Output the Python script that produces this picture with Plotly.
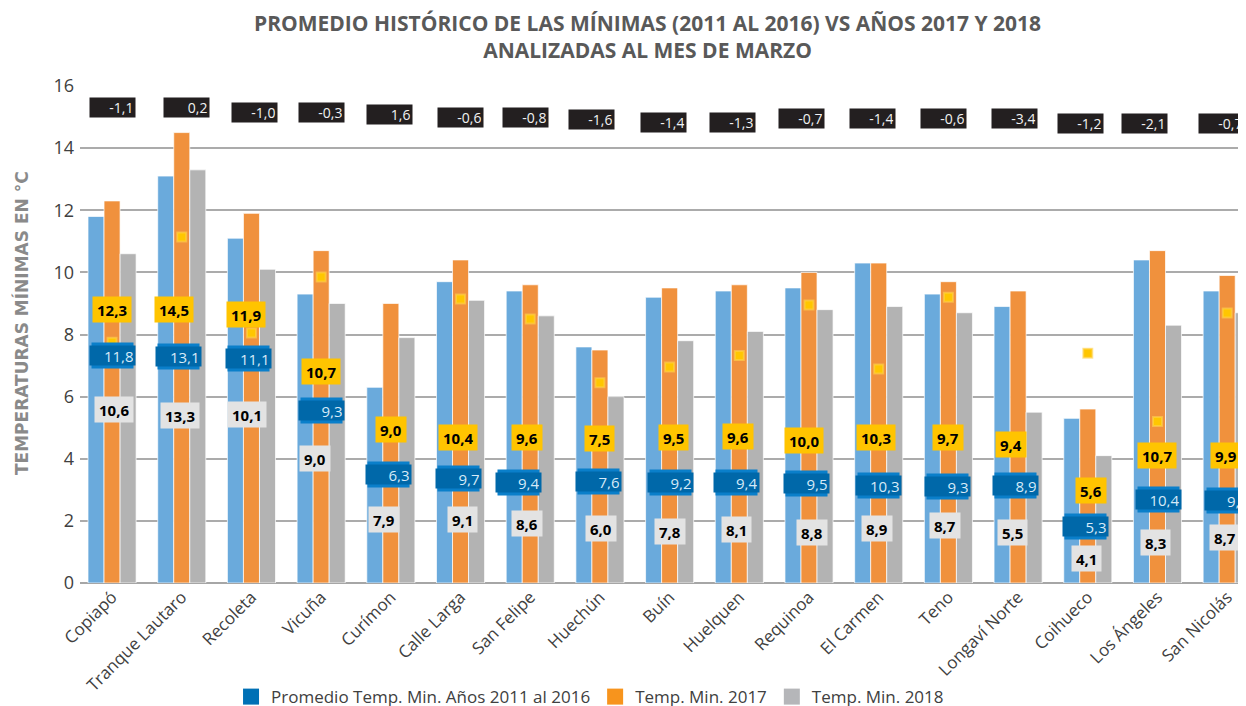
import plotly.graph_objects as go

# ---------------- data ----------------
categories = ["Copiapó", "Tranque Lautaro", "Recoleta", "Vicuña", "Curímon", "Calle Larga",
              "San Felipe", "Huechún", "Buín", "Huelquen", "Requinoa", "El Carmen", "Teno",
              "Longaví Norte", "Coihueco", "Los Ángeles", "San Nicolás"]
avg_2011_2016 = [11.8, 13.1, 11.1, 9.3, 6.3, 9.7, 9.4, 7.6, 9.2, 9.4, 9.5, 10.3, 9.3, 8.9, 5.3, 10.4, 9.4]
min_2017 = [12.3, 14.5, 11.9, 10.7, 9.0, 10.4, 9.6, 7.5, 9.5, 9.6, 10.0, 10.3, 9.7, 9.4, 5.6, 10.7, 9.9]
min_2018 = [10.6, 13.3, 10.1, 9.0, 7.9, 9.1, 8.6, 6.0, 7.8, 8.1, 8.8, 8.9, 8.7, 5.5, 4.1, 8.3, 8.7]
diff_2018_vs_avg = [-1.1, 0.2, -1.0, -0.3, 1.6, -0.6, -0.8, -1.6, -1.4, -1.3, -0.7, -1.4, -0.6, -3.4, -1.2, -2.1, -0.7]
stray_markers = [7.75, 11.14, 8.05, 9.85, None, 9.14, 8.5, 6.45, 6.95, 7.32, 8.95, 6.89, 9.2, None, 7.4, 5.2, 8.69]
y_ticks = [0, 2, 4, 6, 8, 10, 12, 14, 16]

# label box positions (data units) and horizontal nudges (px)
pos_diff = [15.32, 15.32, 15.16, 15.16, 15.07, 15.00, 15.00, 14.91, 14.84, 14.84, 14.94, 14.94, 14.94, 14.94, 14.78, 14.78, 14.78]
pos_2017 = [8.79, 8.82, 8.63, 6.82, 4.93, 4.70, 4.70, 4.64, 4.67, 4.73, 4.60, 4.67, 4.67, 4.47, 2.99, 4.12, 4.09]
pos_avg = [7.34, 7.28, 7.24, 5.54, 3.48, 3.38, 3.25, 3.28, 3.25, 3.25, 3.19, 3.15, 3.12, 3.15, 1.83, 2.70, 2.67]
pos_2018 = [5.57, 5.38, 5.41, 4.02, 2.03, 2.03, 1.90, 1.74, 1.67, 1.71, 1.64, 1.74, 1.84, 1.64, 0.80, 1.32, 1.48]
shift_diff = [0.5, 4.5, 3.5, 0.5, -1.5, 0, -4.5, -8.5, -6.5, -6.5, -7.5, -6.5, -4.5, -3.5, -7.5, -12.5, -5.5]
shift_2017 = [-0.5, -7.5, -5.5, 0, 0, -2.5, -3, 0, 4, -1.5, -5, -2.5, 0, -7.5, 3, 0, -1.5]
shift_avg = [0.5, -3.5, -2.5, 0.5, -2.5, -2.5, -11.5, -1.5, 0.5, -2.5, -3, -0.5, -0.5, -2.5, -2.5, 1.5, 0]
shift_2018 = [1.5, -1.5, -4, -6.5, -6.5, 1.5, -3.5, 1.5, 0, -2.5, 3, -1.5, -3.5, -5.5, -1.5, -1.5, -2.5]

# ---------------- styles ----------------
FONT = "Open Sans"
C_AVG = "#6AAADC"
C_17 = "#F0913D"
C_18 = "#B3B3B3"


def fmt(v):
    return f"{v:.1f}".replace(".", ",")


fig = go.Figure()
bar_line = dict(color="rgba(255,255,255,0.7)", width=1)
fig.add_trace(go.Bar(x=categories, y=avg_2011_2016, marker=dict(color=C_AVG, line=bar_line),
                     showlegend=False, name="Promedio Temp. Min. Años 2011 al 2016"))
fig.add_trace(go.Bar(x=categories, y=min_2017, marker=dict(color=C_17, line=bar_line),
                     showlegend=False, name="Temp. Min. 2017"))
fig.add_trace(go.Bar(x=categories, y=min_2018, marker=dict(color=C_18, line=bar_line),
                     showlegend=False, name="Temp. Min. 2018"))
fig.add_trace(go.Scatter(x=categories, y=stray_markers, mode="markers", showlegend=False,
                         marker=dict(symbol="square", size=9, color="#FFC600",
                                     line=dict(color="rgba(255,210,80,0.6)", width=2))))

# legend-only entries
for name, col in [("Promedio Temp. Min. Años 2011 al 2016", "#0070B5"),
                  ("Temp. Min. 2017", "#F7941D"),
                  ("Temp. Min. 2018", "#B5B6B9")]:
    fig.add_trace(go.Scatter(x=[categories[0]], y=[None], mode="markers", name=name,
                             marker=dict(symbol="square", size=16, color=col)))

ann = []
for i, c in enumerate(categories):
    # difference boxes (black)
    ann.append(dict(x=c, y=pos_diff[i], xref="x", yref="y", xshift=shift_diff[i],
                    text=fmt(diff_2018_vs_avg[i]),
                    showarrow=False, bgcolor="#231F20", width=42, height=16, borderpad=1.5,
                    align="right", font=dict(family=FONT, size=14, color="#F2F2F2")))
    # 2017 boxes (yellow)
    ann.append(dict(x=c, y=pos_2017[i], xref="x", yref="y", xshift=shift_2017[i],
                    text="<b>" + fmt(min_2017[i]) + "</b>",
                    showarrow=False, bgcolor="#FFC400", height=17, borderpad=4,
                    font=dict(family=FONT, size=15, color="black")))
    # avg boxes (blue, two-tone)
    ann.append(dict(x=c, y=pos_avg[i], xref="x", yref="y", xshift=shift_avg[i], text=" ",
                    showarrow=False, bgcolor="#0A7FCA", width=41, height=25, borderpad=0))
    ann.append(dict(x=c, y=pos_avg[i], xref="x", yref="y", xshift=shift_avg[i],
                    text=fmt(avg_2011_2016[i]),
                    showarrow=False, bgcolor="#0068A9", width=42, height=16, borderpad=1.5,
                    align="right", font=dict(family=FONT, size=15, color="#D6EAF8")))
    # 2018 boxes (light gray)
    ann.append(dict(x=c, y=pos_2018[i], xref="x", yref="y", xshift=shift_2018[i],
                    text="<b>" + fmt(min_2018[i]) + "</b>",
                    showarrow=False, bgcolor="#E3E3E3", height=17, borderpad=4,
                    font=dict(family=FONT, size=15, color="black")))

# title (two lines)
ann.append(dict(x=0.487, y=1.1006, xref="paper", yref="paper", showarrow=False,
                xanchor="center", yanchor="middle",
                text="<b>PROMEDIO HISTÓRICO DE LAS MÍNIMAS (2011 AL 2016) VS AÑOS 2017 Y 2018</b>"
                     "<br><b>ANALIZADAS AL MES DE MARZO</b>",
                font=dict(family=FONT, size=21, color="#595959")))
# y axis title
ann.append(dict(x=-0.0506, y=0.523, xref="paper", yref="paper", showarrow=False, textangle=-90,
                xanchor="center", yanchor="middle",
                text="<b>TEMPERATURAS MÍNIMAS EN °C</b>",
                font=dict(family="DejaVu Sans", size=17, color="#8A8A8A")))

fig.update_layout(
    width=1246, height=706,
    margin=dict(l=72, r=8, t=78, b=131),
    paper_bgcolor="white", plot_bgcolor="white",
    barmode="group", bargap=0.31, bargroupgap=0,
    font=dict(family=FONT, color="#404040"),
    annotations=ann,
    legend=dict(orientation="h", xref="container", yref="container",
                x=0.179, xanchor="left", y=0.024, yanchor="middle",
                font=dict(family=FONT, size=17, color="#404040"), itemwidth=30),
)
fig.update_xaxes(range=[-0.46, 16.27], tickangle=-45, tickfont=dict(family=FONT, size=17, color="#404040"),
                 showgrid=False, ticks="", showline=False, automargin=False)
fig.update_yaxes(range=[0, 16], tickvals=y_ticks, showgrid=True, gridcolor="#ABABAB", gridwidth=2,
                 zeroline=True, zerolinecolor="#A6A6A6", zerolinewidth=2, automargin=False,
                 tickfont=dict(family=FONT, size=18, color="#404040"), ticks="", ticklabelstandoff=5)

fig.write_html("out.html")
